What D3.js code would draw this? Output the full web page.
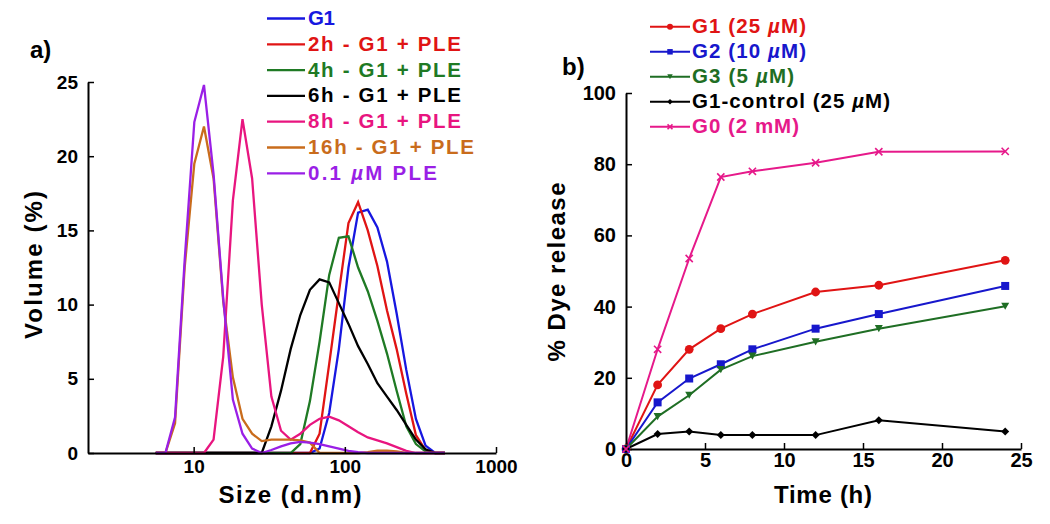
<!DOCTYPE html>
<html><head><meta charset="utf-8">
<script src="https://cdn.jsdelivr.net/npm/d3@7"></script>
<style>
html,body{margin:0;padding:0;background:#fff;}
svg text{font-family:"Liberation Sans",Arial,Helvetica,sans-serif;font-weight:bold;}
</style></head>
<body><svg id="c" width="1050" height="524"></svg>
<script>
// ---------- Panel a) data: DLS size distributions ----------
const sizes = [5.615, 6.503, 7.531, 8.721, 10.10, 11.70, 13.54, 15.69, 18.17, 21.04, 24.36, 28.21, 32.67, 37.84, 43.82, 50.75, 58.77, 68.06, 78.82, 91.28, 105.7, 122.4, 141.8, 164.2, 190.1, 220.2, 255.0, 295.3, 342.0, 396.1, 458.7];
const volG1   = [0,0,0,0,0,0,0,0,0,0,0,0,0,0,0,0,0, 0.3,2.7,7.0,12.5,16.2,16.4,15.2,12.9,9.4,5.6,2.3,0.5,0,0];
const vol2h   = [0,0,0,0,0,0,0,0,0,0,0,0,0,0,0,0,0, 1.3,6.0,10.8,15.5,16.9,15.0,12.6,9.6,7.0,4.0,1.2,0.2,0,0];
const vol4h   = [0,0,0,0,0,0,0,0,0,0,0,0,0,0,0, 0.6,3.5,7.5,12.0,14.5,14.6,12.5,10.9,8.9,6.7,4.2,1.8,0.6,0.1,0,0];
const vol6h   = [0,0,0,0,0,0,0,0,0,0,0,0, 1.8,4.2,7.0,9.3,11.0,11.7,11.5,10.1,8.7,7.2,6.0,4.7,3.8,2.9,1.9,0.9,0.25,0,0];
const vol8h   = [0,0,0,0,0,0, 0.9,6.5,17.0,22.5,18.5,10.0,3.8,1.5,0.9,1.3,1.9,2.3,2.45,2.2,1.8,1.4,1.05,0.85,0.65,0.4,0.15,0,0,0,0];
const vol16h  = [0,0, 2.0,12.5,19.5,22.0,18.5,10.2,5.1,2.3,1.3,0.8,0.9,0.9,0.9,0.85,0.7,0,0,0,0,0,0.05,0.15,0.15,0.1,0,0,0,0,0];
const volPLE  = [0,0, 2.4,13.0,22.3,24.8,18.8,10.4,3.6,1.3,0.3,0,0.2,0.45,0.65,0.75,0.7,0.6,0.45,0.3,0.15,0.05,0,0,0,0,0,0,0,0,0];
const seriesA = ["G1","2h - G1 + PLE","4h - G1 + PLE","6h - G1 + PLE","8h - G1 + PLE","16h - G1 + PLE","0.1 µM PLE"];
const colorsA = ["#1717e0","#e01414","#1f7a24","#000000","#e8157f","#c96c1c","#9a1fe6"];
const dataA = [volG1, vol2h, vol4h, vol6h, vol8h, vol16h, volPLE];
const sizeTicks = [10, 100, 1000];
const volTicks = [0, 5, 10, 15, 20, 25];

// ---------- Panel b) data: dye release ----------
const times = [0, 2, 4, 6, 8, 12, 16, 24];
const relG1 = [0, 18, 28, 33.8, 37.9, 44.1, 46, 53];
const relG2 = [0, 13.1, 19.8, 23.8, 28, 33.8, 37.9, 45.8];
const relG3 = [0, 9.1, 15.1, 22.3, 26.1, 30.1, 33.8, 40.1];
const relCtrl = [0, 4.2, 4.9, 3.9, 3.9, 3.9, 8.1, 4.9];
const relG0 = [0, 28, 53.5, 76.4, 78, 80.4, 83.5, 83.6];
const seriesB = ["G1 (25 µM)", "G2 (10 µM)", "G3 (5 µM)", "G1-control (25 µM)", "G0 (2 mM)"];
const colorsB = ["#e01414", "#1717cc", "#1f6e24", "#000000", "#e6198a"];
const markersB = ["circle", "square", "triangle", "diamond", "x"];
const dataB = [relG1, relG2, relG3, relCtrl, relG0];
const timeTicks = [0, 5, 10, 15, 20, 25];
const relTicks = [0, 20, 40, 60, 80, 100];

const svg = d3.select("#c");

// helper: text with italic µ
function richText(sel, str) {
  const parts = str.split("µ");
  parts.forEach((p, i) => {
    if (i > 0) sel.append("tspan").attr("font-style", "italic").text("µ");
    if (p.length) sel.append("tspan").text(p);
  });
}

// ================= Panel a =================
const xA = d3.scaleLog().domain([2, 1000]).range([88, 496]);
const yA = d3.scaleLinear().domain([0, 25]).range([453, 82]);
const lineA = d3.line().x((d, i) => xA(sizes[i])).y(d => yA(d));

const gA = svg.append("g");
dataA.forEach((vals, k) => {
  gA.append("path").datum(vals).attr("d", lineA)
    .attr("fill", "none").attr("stroke", colorsA[k]).attr("stroke-width", 2.3)
    .attr("stroke-linejoin", "miter");
});

const axA_x = gA.append("g").attr("transform", `translate(0,${yA(0)})`)
  .call(d3.axisBottom(xA).tickValues(sizeTicks).tickFormat(d3.format("d")).tickSize(-6).tickSizeOuter(0).tickPadding(7));
const axA_y = gA.append("g").attr("transform", `translate(${xA(2)},0)`)
  .call(d3.axisLeft(yA).tickValues(volTicks).tickSize(-6).tickSizeOuter(0).tickPadding(10));
[axA_x, axA_y].forEach(a => {
  a.select(".domain").attr("stroke", "#000").attr("stroke-width", 2);
  a.selectAll(".tick line").attr("stroke", "#000").attr("stroke-width", 1.5);
  a.selectAll(".tick text").attr("font-size", 19).attr("fill", "#000")
    .style("font-family", '"Liberation Sans",Arial,sans-serif').style("font-weight", "bold");
});

gA.append("text").attr("x", 30).attr("y", 58).attr("font-size", 24).text("a)");
gA.append("text").attr("x", 290).attr("y", 503).attr("text-anchor", "middle")
  .attr("font-size", 24).attr("textLength", 143).attr("lengthAdjust", "spacing").text("Size (d.nm)");
gA.append("text").attr("transform", "translate(42,265) rotate(-90)").attr("text-anchor", "middle")
  .attr("font-size", 24).attr("textLength", 148).attr("lengthAdjust", "spacing").text("Volume (%)");

const legWA = [27, 153, 153, 153, 153, 166, 129];
seriesA.forEach((name, k) => {
  const yb = 25 + k * 25.8;
  gA.append("line").attr("x1", 267).attr("x2", 305).attr("y1", yb - 6.5).attr("y2", yb - 6.5)
    .attr("stroke", colorsA[k]).attr("stroke-width", 2.3);
  const t = gA.append("text").attr("x", 308).attr("y", yb).attr("font-size", 20.5)
    .attr("fill", colorsA[k]).attr("textLength", legWA[k]).attr("lengthAdjust", "spacing");
  richText(t, name);
});

// ================= Panel b =================
const xB = d3.scaleLinear().domain([0, 25]).range([626, 1021]);
const yB = d3.scaleLinear().domain([0, 100]).range([449, 93]);
const lineB = d3.line().x((d, i) => xB(times[i])).y(d => yB(d));
const gB = svg.append("g");

function drawMarker(g, type, cx, cy, color, s) {
  if (type === "circle") {
    g.append("circle").attr("cx", cx).attr("cy", cy).attr("r", s * 0.55).attr("fill", color);
  } else if (type === "square") {
    g.append("rect").attr("x", cx - s / 2).attr("y", cy - s / 2).attr("width", s).attr("height", s).attr("fill", color);
  } else if (type === "triangle") {
    const h = s * 0.9;
    g.append("path").attr("d", `M${cx - s / 2},${cy - h / 2}L${cx + s / 2},${cy - h / 2}L${cx},${cy + h / 2}Z`).attr("fill", color);
  } else if (type === "diamond") {
    const r = s * 0.5;
    g.append("path").attr("d", `M${cx},${cy - r}L${cx + r},${cy}L${cx},${cy + r}L${cx - r},${cy}Z`).attr("fill", color);
  } else if (type === "x") {
    const r = s * 0.45;
    g.append("path").attr("d", `M${cx - r},${cy - r}L${cx + r},${cy + r}M${cx - r},${cy + r}L${cx + r},${cy - r}`)
      .attr("stroke", color).attr("stroke-width", 1.6).attr("fill", "none");
  }
}

dataB.forEach((vals, k) => {
  gB.append("path").datum(vals).attr("d", lineB)
    .attr("fill", "none").attr("stroke", colorsB[k]).attr("stroke-width", 2);
});
const axB_x = gB.append("g").attr("transform", `translate(0,${yB(0)})`)
  .call(d3.axisBottom(xB).tickValues(timeTicks).tickFormat(d3.format("d")).tickSize(-6).tickSizeOuter(0).tickPadding(4));
const axB_y = gB.append("g").attr("transform", `translate(${xB(0)},0)`)
  .call(d3.axisLeft(yB).tickValues(relTicks).tickSize(-6).tickSizeOuter(0).tickPadding(10));
[axB_x, axB_y].forEach(a => {
  a.select(".domain").attr("stroke", "#000").attr("stroke-width", 2);
  a.selectAll(".tick line").attr("stroke", "#000").attr("stroke-width", 1.5);
  a.selectAll(".tick text").attr("font-size", 20).attr("fill", "#000")
    .style("font-family", '"Liberation Sans",Arial,sans-serif').style("font-weight", "bold");
});
dataB.forEach((vals, k) => {
  vals.forEach((v, i) => drawMarker(gB, markersB[k], xB(times[i]), yB(v), colorsB[k], 8));
});

gB.append("text").attr("x", 562).attr("y", 75).attr("font-size", 24).text("b)");
gB.append("text").attr("x", 823).attr("y", 503).attr("text-anchor", "middle")
  .attr("font-size", 24).attr("textLength", 98).attr("lengthAdjust", "spacing").text("Time (h)");
gB.append("text").attr("transform", "translate(565,272) rotate(-90)").attr("text-anchor", "middle")
  .attr("font-size", 24).attr("textLength", 179).attr("lengthAdjust", "spacing").text("% Dye release");

const legWB = [114, 114, 102, 198, 107];
seriesB.forEach((name, k) => {
  const yb = 33.3 + k * 25;
  gB.append("line").attr("x1", 650).attr("x2", 690).attr("y1", yb - 6.5).attr("y2", yb - 6.5)
    .attr("stroke", colorsB[k]).attr("stroke-width", 2);
  drawMarker(gB, markersB[k], 670, yb - 6.5, colorsB[k], 5.5);
  const t = gB.append("text").attr("x", 692).attr("y", yb).attr("font-size", 20.5)
    .attr("fill", colorsB[k]).attr("textLength", legWB[k]).attr("lengthAdjust", "spacing");
  richText(t, name);
});
</script></body></html>
